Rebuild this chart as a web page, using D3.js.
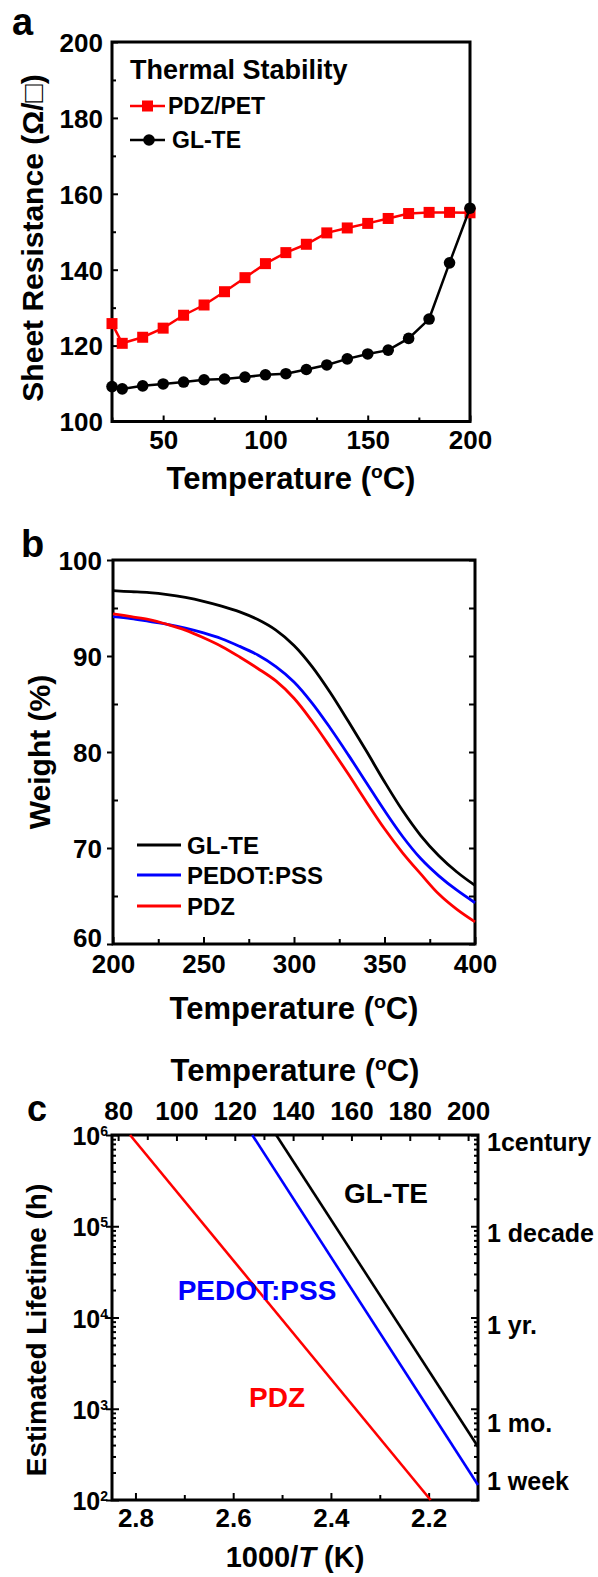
<!DOCTYPE html>
<html><head><meta charset="utf-8">
<script src="https://cdn.jsdelivr.net/npm/d3@7"></script>
<style>
body{margin:0;background:#fff}
svg text{font-family:"Liberation Sans",Arial,sans-serif;font-weight:bold;fill:#000}
</style>
</head><body>
<svg id="fig" width="598" height="1577"></svg>
<script>
// ---------- Panel a: thermal stability ----------
const aTemp = [25,30,40,50,60,70,80,90,100,110,120,130,140,150,160,170,180,190,200];
const aPDZPET = [125.8,120.6,122.2,124.6,128.0,130.7,134.2,137.9,141.6,144.5,146.7,149.7,151.0,152.2,153.5,154.8,155.1,155.1,155.0];
const aGLTE = [109.2,108.6,109.4,109.9,110.4,111.0,111.2,111.7,112.3,112.6,113.7,114.9,116.5,117.8,118.8,121.9,127.0,141.8,156.2];
const aXTicks = [50,100,150,200];
const aXMinor = [25,75,125,175];
const aYTicks = [100,120,140,160,180,200];
const aYMinor = [110,130,150,170,190];

// ---------- Panel b: TGA ----------
const bTemp = [200,210,220,230,240,250,260,270,280,290,300,310,320,330,340,350,360,370,380,390,400];
const bGLTE = [96.8,96.7,96.6,96.4,96.1,95.7,95.2,94.6,93.8,92.7,91.1,88.9,86.2,83.2,80.1,76.9,73.9,71.3,69.2,67.5,66.1];
const bPEDOT = [94.1,93.9,93.6,93.3,92.9,92.4,91.8,91.0,90.1,88.9,87.3,85.1,82.5,79.7,76.8,73.9,71.2,68.9,67.1,65.6,64.3];
const bPDZ = [94.4,94.1,93.8,93.3,92.7,91.9,91.0,89.9,88.7,87.4,85.6,83.2,80.5,77.7,74.8,72.0,69.5,67.3,65.2,63.6,62.3];
const bXTicks = [200,250,300,350,400];
const bXMinor = [225,275,325,375];
const bYTicks = [60,70,80,90,100];
const bYMinor = [65,75,85,95];
const bLegend = ["GL-TE","PEDOT:PSS","PDZ"];

// ---------- Panel c: lifetime (Arrhenius lines) ----------
const cInvT_GLTE = [2.512, 2.099];
const cLife_GLTE = [1e6, 384];
const cInvT_PEDOT = [2.561, 2.099];
const cLife_PEDOT = [1e6, 146];
const cInvT_PDZ = [2.811, 2.196];
const cLife_PDZ = [1e6, 1e2];
const cBottomTicks = [2.8,2.6,2.4,2.2];
const cBottomMinor = [2.7,2.5,2.3];
const cTopTicks = [80,100,120,140,160,180,200];
const cTopMinor = [90,110,130,150,170,190];
const cLeftExp = [2,3,4,5,6];
const cRightLabels = ["1century","1 decade","1 yr.","1 mo.","1 week"];
const cRightHours = [876600, 87660, 8766, 730, 168];

const RED = "#ff0000", BLUE = "#0000ff", BLACK = "#000000";
const svg = d3.select("#fig");

function styleAxis(g, fs){
  g.select(".domain").remove();
  g.selectAll(".tick line").attr("stroke","#000").attr("stroke-width",2);
  g.selectAll(".tick text").style("font-size",fs+"px").attr("fill","#000");
}
function frame(x0,x1,y0,y1){
  svg.append("rect").attr("x",x0).attr("y",y0).attr("width",x1-x0).attr("height",y1-y0)
    .attr("fill","none").attr("stroke","#000").attr("stroke-width",3);
}
function title(x,y,rot,parts,fs){
  const t = svg.append("text").attr("text-anchor","middle").style("font-size",fs+"px")
    .attr("transform",`translate(${x},${y}) rotate(${rot})`);
  parts(t);
  return t;
}
function tempTitle(t){
  t.append("tspan").text("Temperature (");
  t.append("tspan").text("o").style("font-size","0.62em").attr("dy","-0.55em");
  t.append("tspan").text("C)").attr("dy","0.34em");
}

// ================= Panel a =================
{
  const L=112,R=470,T=42,B=421.5;
  const x = d3.scaleLinear([25,200],[L,R]);
  const y = d3.scaleLinear([100,200],[B,T]);
  let g = svg.append("g").attr("transform",`translate(0,${B})`)
    .call(d3.axisBottom(x).tickValues(aXTicks).tickSize(-6).tickPadding(9).tickFormat(d3.format("d")));
  styleAxis(g,26);
  g = svg.append("g").attr("transform",`translate(0,${B})`)
    .call(d3.axisBottom(x).tickValues(aXMinor).tickSize(-4).tickFormat(""));
  styleAxis(g,26);
  g = svg.append("g").attr("transform",`translate(${L},0)`)
    .call(d3.axisLeft(y).tickValues(aYTicks).tickSize(-6).tickPadding(9).tickFormat(d3.format("d")));
  styleAxis(g,26);
  g.selectAll(".tick text").attr("dy","0.36em");
  g = svg.append("g").attr("transform",`translate(${L},0)`)
    .call(d3.axisLeft(y).tickValues(aYMinor).tickSize(-4).tickFormat(""));
  styleAxis(g,26);
  frame(L,R,T,B);

  const line = d3.line().x(d=>x(d[0])).y(d=>y(d[1]));
  const red = aTemp.map((t,i)=>[t,aPDZPET[i]]);
  const blk = aTemp.map((t,i)=>[t,aGLTE[i]]);
  svg.append("path").attr("d",line(red)).attr("fill","none").attr("stroke",RED).attr("stroke-width",2.5);
  svg.selectAll(".sqA").data(red).enter().append("rect")
    .attr("x",d=>x(d[0])-5.5).attr("y",d=>y(d[1])-5.5).attr("width",11).attr("height",11).attr("fill",RED);
  svg.append("path").attr("d",line(blk)).attr("fill","none").attr("stroke",BLACK).attr("stroke-width",2.5);
  svg.selectAll(".ciA").data(blk).enter().append("circle")
    .attr("cx",d=>x(d[0])).attr("cy",d=>y(d[1])).attr("r",5.8).attr("fill",BLACK);

  svg.append("text").attr("x",130).attr("y",79).style("font-size","27px").text("Thermal Stability");
  svg.append("line").attr("x1",130).attr("x2",165).attr("y1",106).attr("y2",106).attr("stroke",RED).attr("stroke-width",2.5);
  svg.append("rect").attr("x",142).attr("y",100.5).attr("width",11).attr("height",11).attr("fill",RED);
  svg.append("text").attr("x",168).attr("y",114).style("font-size","23px").text("PDZ/PET");
  svg.append("line").attr("x1",130).attr("x2",165).attr("y1",140).attr("y2",140).attr("stroke",BLACK).attr("stroke-width",2.5);
  svg.append("circle").attr("cx",149).attr("cy",140).attr("r",5.8).attr("fill",BLACK);
  svg.append("text").attr("x",172).attr("y",148).style("font-size","23px").text("GL-TE");

  title((L+R)/2, 489, 0, tempTitle, 31);
  title(43, 238, -90, t=>{ t.text("Sheet Resistance (\u03A9/\u25A1)"); }, 30);
  svg.append("text").attr("x",12).attr("y",35).style("font-size","38px").text("a");
}

// ================= Panel b =================
{
  const L=113,R=475,T=560,B=944;
  const x = d3.scaleLinear([200,400],[L,R]);
  const y = d3.scaleLinear([60,100],[B,T]);
  let g = svg.append("g").attr("transform",`translate(0,${B})`)
    .call(d3.axisBottom(x).tickValues(bXTicks).tickSize(-7).tickPadding(11).tickFormat(d3.format("d")));
  styleAxis(g,26);
  g = svg.append("g").attr("transform",`translate(0,${B})`)
    .call(d3.axisBottom(x).tickValues(bXMinor).tickSize(-5).tickFormat(""));
  styleAxis(g,26);
  g = svg.append("g").attr("transform",`translate(${L},0)`)
    .call(d3.axisLeft(y).tickValues(bYTicks).tickSize(6).tickPadding(5).tickFormat(d3.format("d")));
  styleAxis(g,26);
  g.selectAll(".tick text").attr("dy",d=>d===60?"0.1em":"0.36em");
  g = svg.append("g").attr("transform",`translate(${L},0)`)
    .call(d3.axisLeft(y).tickValues(bYMinor).tickSize(-5).tickFormat(""));
  styleAxis(g,26);
  g = svg.append("g").attr("transform",`translate(${R},0)`)
    .call(d3.axisRight(y).tickValues(bYTicks.concat(bYMinor)).tickSize(-6).tickFormat(""));
  styleAxis(g,26);
  frame(L,R,T,B);

  const line = d3.line().x(d=>x(d[0])).y(d=>y(d[1])).curve(d3.curveCatmullRom);
  const series = [[bGLTE,BLACK],[bPEDOT,BLUE],[bPDZ,RED]];
  series.forEach(([vals,col])=>{
    svg.append("path").attr("d",line(bTemp.map((t,i)=>[t,vals[i]])))
      .attr("fill","none").attr("stroke",col).attr("stroke-width",2.8);
  });
  const ly = [845,875,906];
  bLegend.forEach((name,i)=>{
    svg.append("line").attr("x1",137).attr("x2",181).attr("y1",ly[i]).attr("y2",ly[i])
      .attr("stroke",series[i][1]).attr("stroke-width",3);
    svg.append("text").attr("x",187).attr("y",ly[i]+8.6).style("font-size","24px").text(name);
  });

  title((L+R)/2, 1019, 0, tempTitle, 31);
  title(50, 752, -90, t=>{ t.text("Weight (%)"); }, 30);
  svg.append("text").attr("x",21).attr("y",557).style("font-size","38px").text("b");
}

// ================= Panel c =================
{
  const L=112,R=478,T=1135,B=1500;
  const x = d3.scaleLinear([2.848,2.099],[L,R]);
  const xt = d3.scaleLinear([77.9,203.4],[L,R]);
  const y = d3.scaleLog([1e2,1e6],[B,T]);

  let g = svg.append("g").attr("transform",`translate(0,${B})`)
    .call(d3.axisBottom(x).tickValues(cBottomTicks).tickSize(-7).tickPadding(9).tickFormat(d3.format(".1f")));
  styleAxis(g,26);
  g = svg.append("g").attr("transform",`translate(0,${B})`)
    .call(d3.axisBottom(x).tickValues(cBottomMinor).tickSize(-5).tickFormat(""));
  styleAxis(g,26);
  g = svg.append("g").attr("transform",`translate(0,${T})`)
    .call(d3.axisTop(xt).tickValues(cTopTicks).tickSize(-6).tickPadding(15).tickFormat(d3.format("d")));
  styleAxis(g,26);
  g = svg.append("g").attr("transform",`translate(0,${T})`)
    .call(d3.axisTop(xt).tickValues(cTopMinor).tickSize(-5).tickFormat(""));
  styleAxis(g,26);

  const majors = cLeftExp.map(e=>Math.pow(10,e));
  const minors = [];
  cLeftExp.slice(0,-1).forEach(e=>{ for(let k=2;k<=9;k++) minors.push(k*Math.pow(10,e)); });
  g = svg.append("g").attr("transform",`translate(${L},0)`)
    .call(d3.axisLeft(y).tickValues(majors).tickSize(6).tickFormat(""));
  styleAxis(g,26);
  g = svg.append("g").attr("transform",`translate(${L},0)`)
    .call(d3.axisLeft(y).tickValues(majors).tickSize(-7).tickFormat(""));
  styleAxis(g,26);
  g = svg.append("g").attr("transform",`translate(${L},0)`)
    .call(d3.axisLeft(y).tickValues(minors).tickSize(-4).tickFormat(""));
  styleAxis(g,26);
  g = svg.append("g").attr("transform",`translate(${R},0)`)
    .call(d3.axisRight(y).tickValues(majors).tickSize(-7).tickFormat(""));
  styleAxis(g,26);
  g = svg.append("g").attr("transform",`translate(${R},0)`)
    .call(d3.axisRight(y).tickValues(minors).tickSize(-4).tickFormat(""));
  styleAxis(g,26);
  frame(L,R,T,B);

  cLeftExp.forEach(e=>{
    const t = svg.append("text").attr("text-anchor","end").attr("x",L-4).attr("y",y(Math.pow(10,e))+10)
      .style("font-size","25px");
    t.append("tspan").text("10");
    t.append("tspan").text(e).style("font-size","14px").attr("dy","-9");
  });
  cRightLabels.forEach((lab,i)=>{
    svg.append("text").attr("x",487).attr("y",y(cRightHours[i])+11).style("font-size","25px").text(lab);
  });

  const line = d3.line().x(d=>x(d[0])).y(d=>y(d[1]));
  const sets = [[cInvT_GLTE,cLife_GLTE,BLACK],[cInvT_PEDOT,cLife_PEDOT,BLUE],[cInvT_PDZ,cLife_PDZ,RED]];
  sets.forEach(([xs,ys,col])=>{
    svg.append("path").attr("d",line(xs.map((v,i)=>[v,ys[i]])))
      .attr("fill","none").attr("stroke",col).attr("stroke-width",2.6);
  });
  svg.append("text").attr("x",386).attr("y",1203).attr("text-anchor","middle").style("font-size","28px").text("GL-TE");
  svg.append("text").attr("x",257).attr("y",1300).attr("text-anchor","middle").style("font-size","28px").style("fill",BLUE).text("PEDOT:PSS");
  svg.append("text").attr("x",277).attr("y",1407).attr("text-anchor","middle").style("font-size","28px").style("fill",RED).text("PDZ");

  title((L+R)/2, 1081, 0, tempTitle, 31);
  title((L+R)/2, 1567, 0, t=>{
    t.append("tspan").text("1000/");
    t.append("tspan").text("T").style("font-style","italic");
    t.append("tspan").text(" (K)");
  }, 29);
  title(46, 1330, -90, t=>{ t.text("Estimated Lifetime (h)"); }, 28);
  svg.append("text").attr("x",27).attr("y",1121).style("font-size","36px").text("c");
}
</script>
</body></html>
